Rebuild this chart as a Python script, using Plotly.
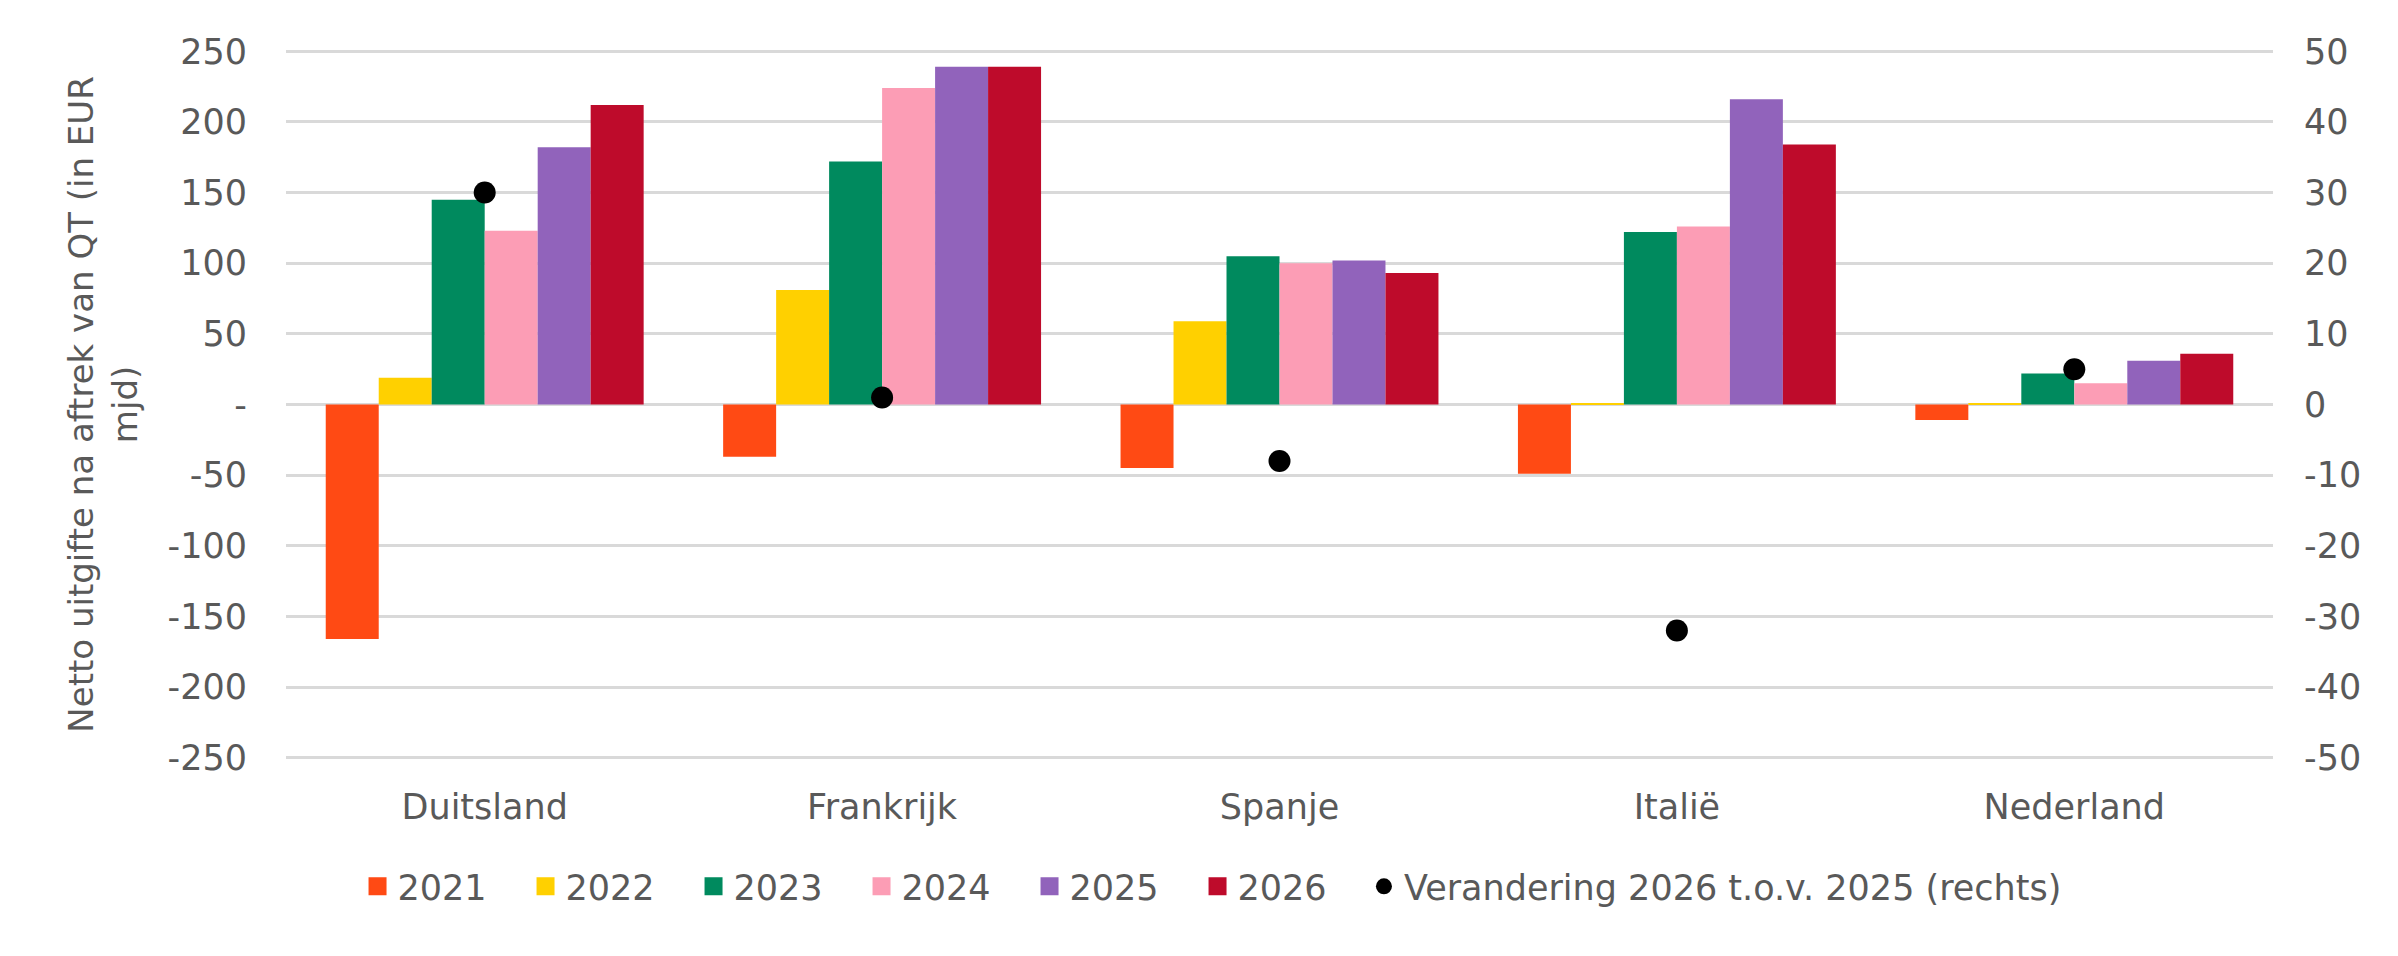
import plotly.graph_objects as go

countries = ["Duitsland", "Frankrijk", "Spanje", "Italië", "Nederland"]
years = ["2021", "2022", "2023", "2024", "2025", "2026"]
v2021 = [-166, -37, -45, -49, -11]
v2022 = [19, 81, 59, 1, 1]
v2023 = [145, 172, 105, 122, 22]
v2024 = [123, 224, 100, 126, 15]
v2025 = [182, 239, 102, 216, 31]
v2026 = [212, 239, 93, 184, 36]
change = [30, 1, -8, -32, 5]
change_name = "Verandering 2026 t.o.v. 2025 (rechts)"

left_ticks = [250, 200, 150, 100, 50, 0, -50, -100, -150, -200, -250]
left_text = ["250", "200", "150", "100", "50", "-", "-50", "-100", "-150", "-200", "-250"]
right_ticks = [50, 40, 30, 20, 10, 0, -10, -20, -30, -40, -50]
right_text = ["50", "40", "30", "20", "10", "0", "-10", "-20", "-30", "-40", "-50"]

colors = ["#FF4A14", "#FFD000", "#008A5E", "#FC9DB5", "#9163BB", "#BE0B2B"]
series = [v2021, v2022, v2023, v2024, v2025, v2026]

FONT = "DejaVu Sans"
GREY = "#595959"
FS = 35

fig = go.Figure()
for name, vals, col in zip(years, series, colors):
    fig.add_trace(go.Bar(x=countries, y=vals, name=name, legendgroup=name, showlegend=False,
                         marker=dict(color=col, line=dict(width=0))))
    # legend proxy with a larger square symbol
    fig.add_trace(go.Scatter(x=[None], y=[None], name=name, legendgroup=name, mode="markers",
                             marker=dict(symbol="square", color=col, size=16,
                                         line=dict(color=col, width=2))))

fig.add_trace(go.Scatter(x=countries, y=change, name=change_name, mode="markers",
                         marker=dict(color="black", size=22), yaxis="y2", legend="legend2"))

legend_common = dict(orientation="h", xanchor="left", y=-0.18, yanchor="middle",
                     font=dict(family=FONT, size=FS, color=GREY), traceorder="normal",
                     itemsizing="trace", bgcolor="rgba(0,0,0,0)")

fig.update_layout(
    width=2398, height=956,
    margin=dict(l=278, r=133, t=42, b=205),
    paper_bgcolor="white", plot_bgcolor="white",
    barmode="group", bargap=0.2, bargroupgap=0,
    font=dict(family=FONT, size=FS, color=GREY),
    showlegend=True,
    legend=dict(x=0.036, entrywidth=123, entrywidthmode="pixels", **legend_common),
    legend2=dict(x=0.5425, **legend_common),
    xaxis=dict(showgrid=False, showline=False, ticks="", ticklabelstandoff=24,
               tickfont=dict(family=FONT, size=FS, color=GREY)),
    yaxis=dict(range=[-250.9, 250.9], tickvals=left_ticks, ticktext=left_text,
               showgrid=True, gridcolor="#D9D9D9", gridwidth=3, zeroline=False,
               showline=False, ticks="", ticklabelstandoff=38,
               tickfont=dict(family=FONT, size=FS, color=GREY)),
    yaxis2=dict(range=[-50.18, 50.18], tickvals=right_ticks, ticktext=right_text,
                overlaying="y", side="right",
                showgrid=False, zeroline=False, showline=False, ticks="",
                ticklabelstandoff=30, tickfont=dict(family=FONT, size=FS, color=GREY)),
    annotations=[dict(text="Netto uitgifte na aftrek van QT (in EUR<br>mjd)", textangle=-90,
                      xref="paper", yref="paper", x=-0.0925, y=0.5, xanchor="center",
                      yanchor="middle", showarrow=False, align="center",
                      font=dict(family=FONT, size=34, color=GREY))],
)

fig.write_html("out.html")
